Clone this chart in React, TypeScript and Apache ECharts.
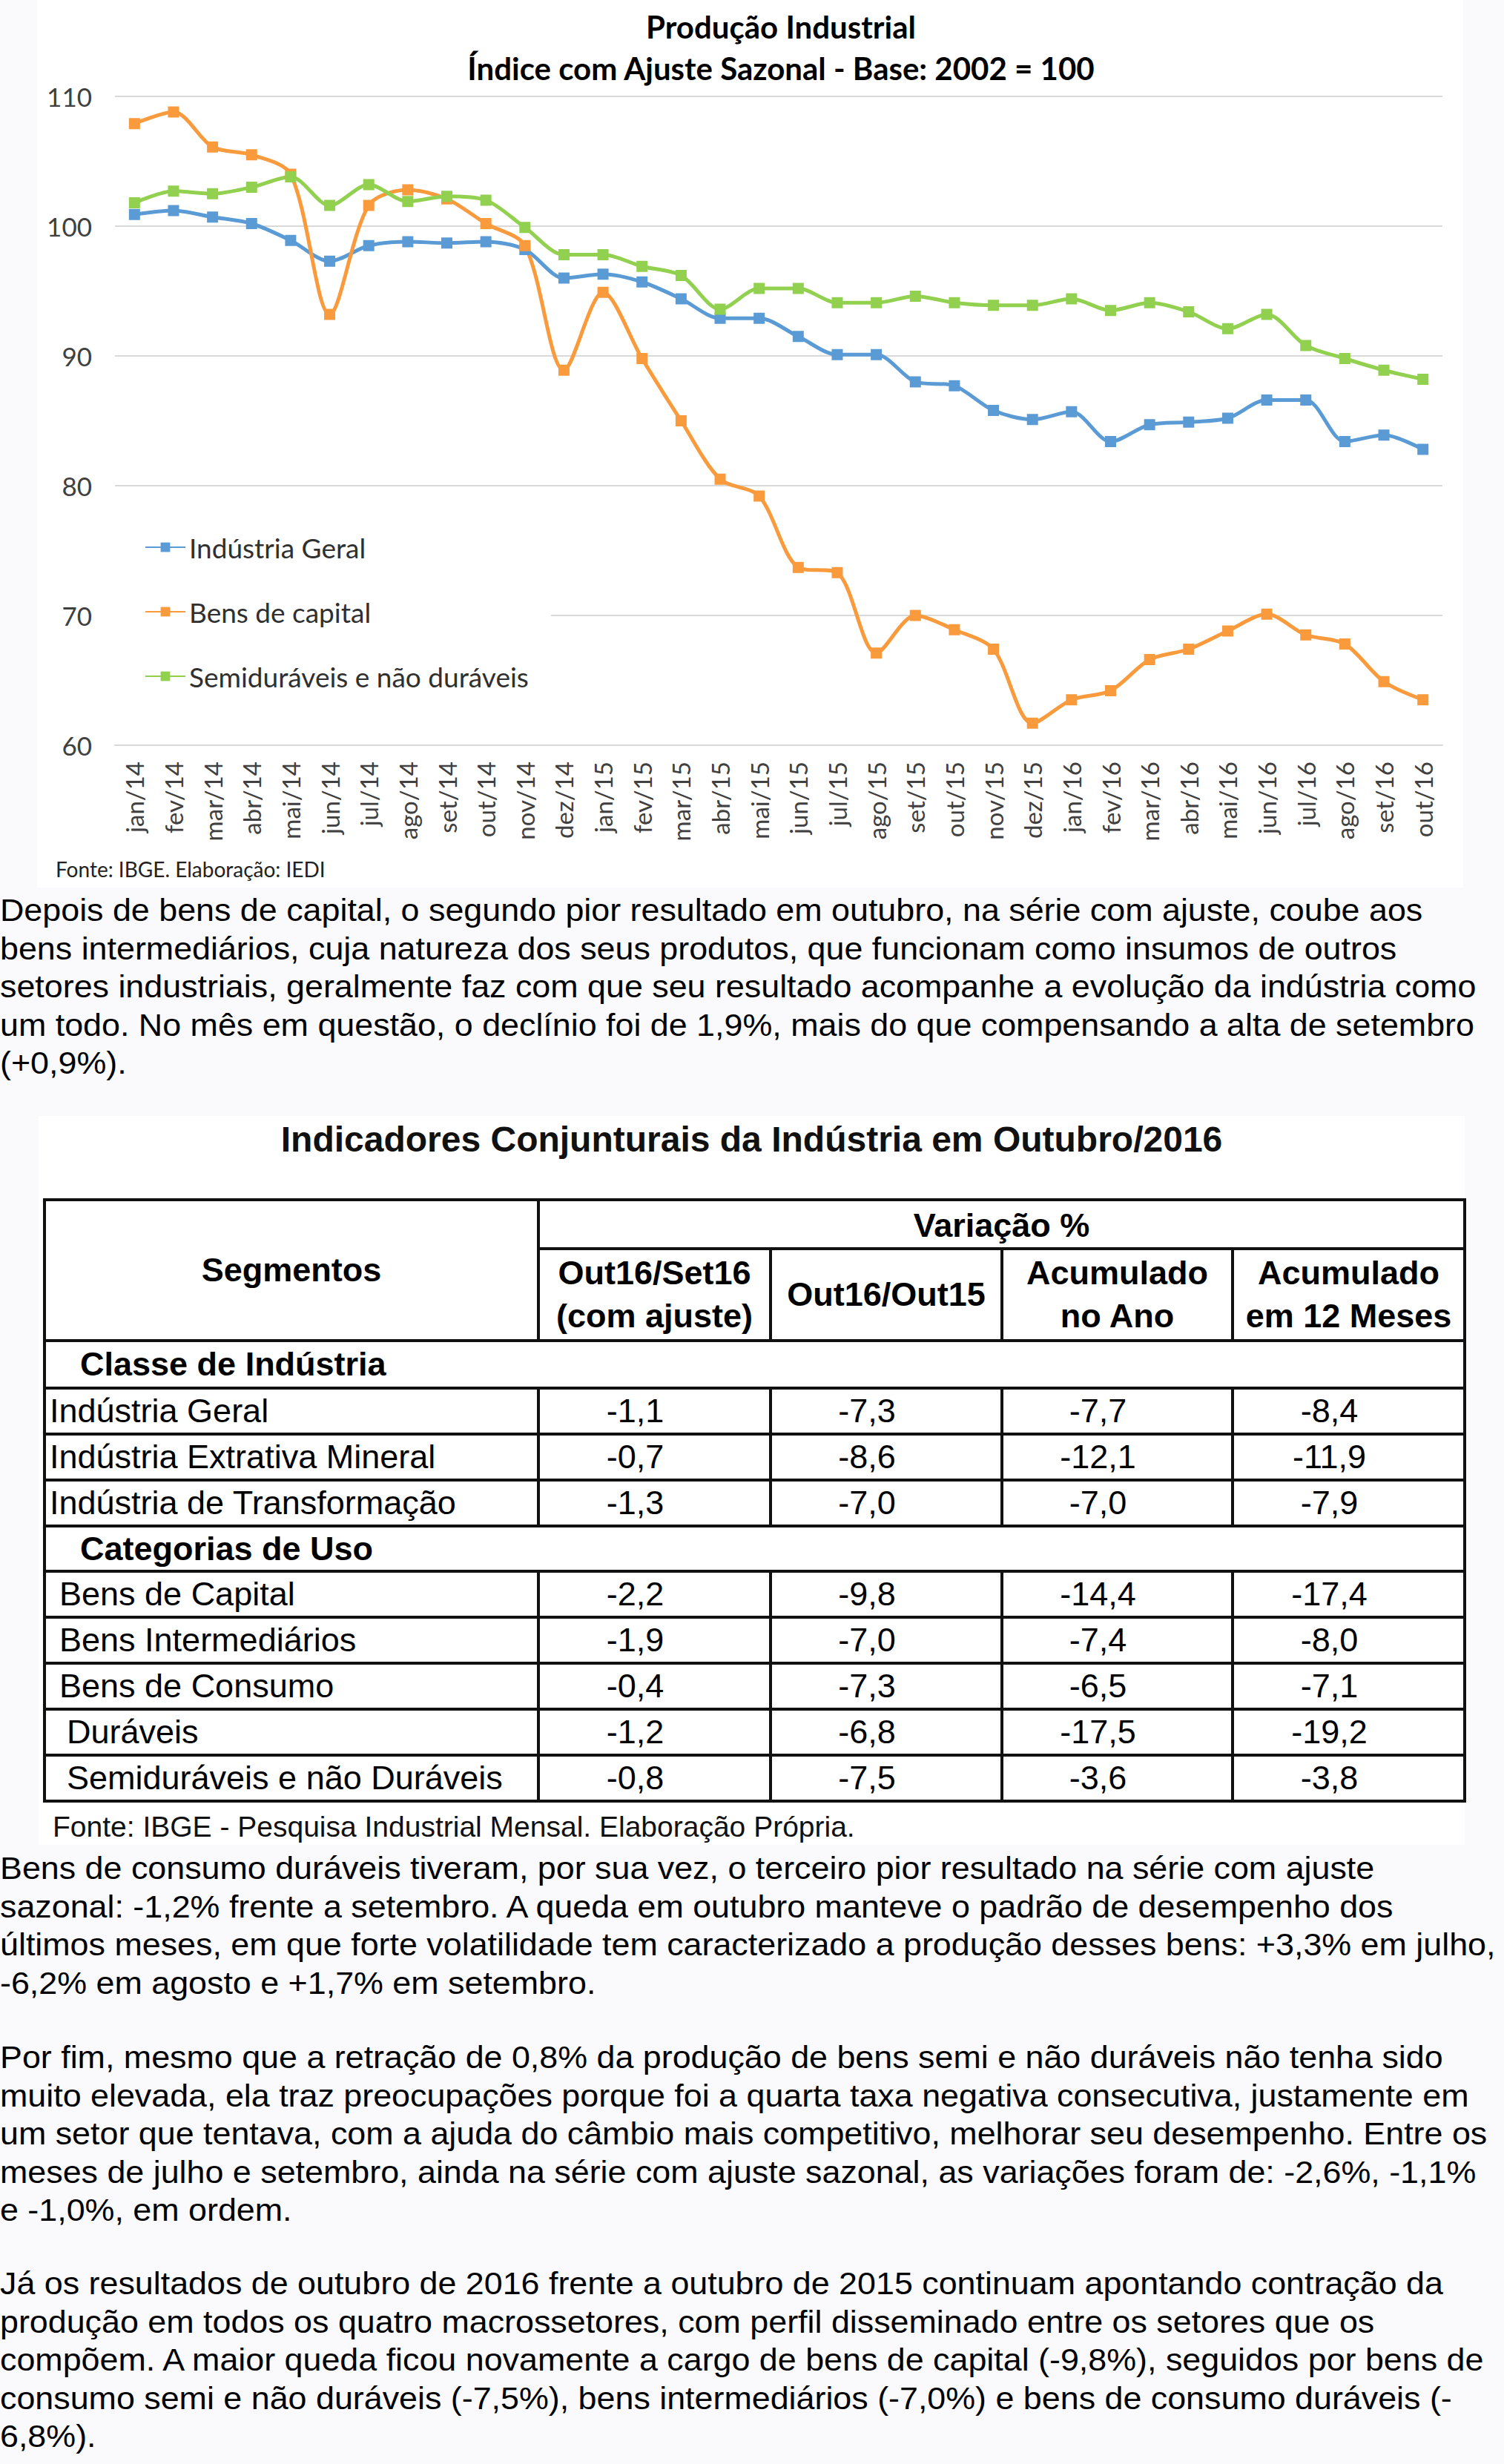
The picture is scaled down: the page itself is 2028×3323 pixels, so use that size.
import React, { useEffect, useRef } from "react";
import * as echarts from "echarts";

const months = [
  "jan/14", "fev/14", "mar/14", "abr/14", "mai/14", "jun/14", "jul/14", "ago/14", "set/14", "out/14", "nov/14", "dez/14",
  "jan/15", "fev/15", "mar/15", "abr/15", "mai/15", "jun/15", "jul/15", "ago/15", "set/15", "out/15", "nov/15", "dez/15",
  "jan/16", "fev/16", "mar/16", "abr/16", "mai/16", "jun/16", "jul/16", "ago/16", "set/16", "out/16",
];

const industriaGeral = [
  100.9, 101.2, 100.7, 100.2, 98.9, 97.3, 98.5, 98.8, 98.7, 98.8, 98.2, 96.0,
  96.3, 95.7, 94.4, 92.9, 92.9, 91.5, 90.1, 90.1, 88.0, 87.7, 85.8, 85.1,
  85.7, 83.4, 84.7, 84.9, 85.2, 86.6, 86.6, 83.4, 83.9, 82.8,
];

const bensCapital = [
  107.9, 108.8, 106.1, 105.5, 104.0, 93.2, 101.6, 102.8, 102.1, 100.2, 98.5, 88.9,
  94.9, 89.8, 85.0, 80.5, 79.2, 73.7, 73.3, 67.1, 70.0, 68.9, 67.4, 61.7,
  63.5, 64.2, 66.6, 67.4, 68.8, 70.1, 68.5, 67.8, 64.9, 63.5,
];

const semiduraveis = [
  101.8, 102.7, 102.5, 103.0, 103.8, 101.6, 103.2, 101.9, 102.3, 102.0, 99.9, 97.8,
  97.8, 96.9, 96.2, 93.6, 95.2, 95.2, 94.1, 94.1, 94.6, 94.1, 93.9, 93.9,
  94.4, 93.5, 94.1, 93.4, 92.1, 93.2, 90.8, 89.8, 88.9, 88.2,
];

const seriesNames = ["Indústria Geral", "Bens de capital", "Semiduráveis e não duráveis"];
const seriesColors = ["#5B9BD5", "#F99A3C", "#92D050"];

const chartTitle = ["Produção Industrial", "Índice com Ajuste Sazonal - Base: 2002 = 100"];
const chartSource = "Fonte: IBGE. Elaboração: IEDI";

const tableTitle = "Indicadores Conjunturais da Indústria em Outubro/2016";
const tableColumns = ["Out16/Set16\n(com ajuste)", "Out16/Out15", "Acumulado\nno Ano", "Acumulado\nem 12 Meses"];
const sectionClasse = "Classe de Indústria";
const rowsClasse = ["Indústria Geral", "Indústria Extrativa Mineral", "Indústria de Transformação"];
const valuesClasse = [
  ["-1,1", "-7,3", "-7,7", "-8,4"],
  ["-0,7", "-8,6", "-12,1", "-11,9"],
  ["-1,3", "-7,0", "-7,0", "-7,9"],
];
const sectionUso = "Categorias de Uso";
const rowsUso = ["Bens de Capital", "Bens Intermediários", "Bens de Consumo", "Duráveis", "Semiduráveis e não Duráveis"];
const indentUso = [18, 18, 18, 28, 28];
const valuesUso = [
  ["-2,2", "-9,8", "-14,4", "-17,4"],
  ["-1,9", "-7,0", "-7,4", "-8,0"],
  ["-0,4", "-7,3", "-6,5", "-7,1"],
  ["-1,2", "-6,8", "-17,5", "-19,2"],
  ["-0,8", "-7,5", "-3,6", "-3,8"],
];
const tableSource = "Fonte: IBGE - Pesquisa Industrial Mensal. Elaboração Própria.";

const paragraph1 = [
  "Depois de bens de capital, o segundo pior resultado em outubro, na série com ajuste, coube aos",
  "bens intermediários, cuja natureza dos seus produtos, que funcionam como insumos de outros",
  "setores industriais, geralmente faz com que seu resultado acompanhe a evolução da indústria como",
  "um todo. No mês em questão, o declínio foi de 1,9%, mais do que compensando a alta de setembro",
  "(+0,9%).",
];
const paragraph2 = [
  "Bens de consumo duráveis tiveram, por sua vez, o terceiro pior resultado na série com ajuste",
  "sazonal: -1,2% frente a setembro. A queda em outubro manteve o padrão de desempenho dos",
  "últimos meses, em que forte volatilidade tem caracterizado a produção desses bens: +3,3% em julho,",
  "-6,2% em agosto e +1,7% em setembro.",
];
const paragraph3 = [
  "Por fim, mesmo que a retração de 0,8% da produção de bens semi e não duráveis não tenha sido",
  "muito elevada, ela traz preocupações porque foi a quarta taxa negativa consecutiva, justamente em",
  "um setor que tentava, com a ajuda do câmbio mais competitivo, melhorar seu desempenho. Entre os",
  "meses de julho e setembro, ainda na série com ajuste sazonal, as variações foram de: -2,6%, -1,1%",
  "e -1,0%, em ordem.",
];
const paragraph4 = [
  "Já os resultados de outubro de 2016 frente a outubro de 2015 continuam apontando contração da",
  "produção em todos os quatro macrossetores, com perfil disseminado entre os setores que os",
  "compõem. A maior queda ficou novamente a cargo de bens de capital (-9,8%), seguidos por bens de",
  "consumo semi e não duráveis (-7,5%), bens intermediários (-7,0%) e bens de consumo duráveis (-",
  "6,8%).",
];

const LH = 51.4;
const textFont = "'Liberation Sans', Arial, sans-serif";
const chartFont = "Lato, 'Open Sans', sans-serif";

function Chart() {
  const ref = useRef<HTMLDivElement>(null);
  useEffect(() => {
    if (!ref.current) return;
    const chart = echarts.init(ref.current, undefined, { renderer: "svg" });
    const data = [industriaGeral, bensCapital, semiduraveis];
    chart.setOption({
      animation: false,
      backgroundColor: "#ffffff",
      grid: { left: 105, right: 28, top: 130, bottom: 192 },
      xAxis: {
        type: "category",
        data: months,
        boundaryGap: true,
        axisLine: { show: true, lineStyle: { color: "#d9d9d9", width: 2 } },
        axisTick: { show: false },
        axisLabel: { rotate: 90, interval: 0, fontSize: 33, fontFamily: chartFont, color: "#404040", margin: 22 },
      },
      yAxis: {
        type: "value",
        min: 60,
        max: 110,
        interval: 10,
        axisLine: { show: false },
        axisTick: { show: false },
        splitLine: { lineStyle: { color: "#d9d9d9", width: 2 } },
        axisLabel: { fontSize: 35, fontFamily: chartFont, color: "#404040", margin: 31 },
      },
      legend: {
        orient: "vertical",
        left: 105,
        top: 688,
        padding: [30, 30, 30, 40],
        itemGap: 47,
        itemWidth: 54,
        itemHeight: 16,
        backgroundColor: "#ffffff",
        data: seriesNames,
        textStyle: { fontSize: 37, fontFamily: chartFont, color: "#303030", lineHeight: 40 },
      },
      graphic: [
        {
          type: "text",
          x: 1003,
          y: 36,
          style: { text: chartTitle[0], fontSize: 42, fontWeight: "bold", fontFamily: chartFont, fill: "#000", align: "center", verticalAlign: "middle" },
        },
        {
          type: "text",
          x: 1003,
          y: 92,
          style: { text: chartTitle[1], fontSize: 42, fontWeight: "bold", fontFamily: chartFont, fill: "#000", align: "center", verticalAlign: "middle" },
        },
        {
          type: "text",
          x: 25,
          y: 1172,
          style: { text: chartSource, fontSize: 28, fontFamily: chartFont, fill: "#222", align: "left", verticalAlign: "middle" },
        },
      ],
      series: seriesNames.map((name, i) => ({
        name,
        type: "line",
        data: data[i],
        smooth: 0.3,
        symbol: "rect",
        symbolSize: 15,
        lineStyle: { width: 5, color: seriesColors[i] },
        itemStyle: { color: seriesColors[i] },
      })),
    });
    return () => chart.dispose();
  }, []);
  return <div ref={ref} style={{ position: "absolute", left: 50, top: 0, width: 1923, height: 1197, background: "#fff" }} />;
}

function Paragraph({ lines, top }: { lines: string[]; top: number }) {
  return (
    <div
      style={{
        position: "absolute",
        left: 0,
        top,
        fontFamily: textFont,
        fontSize: 42,
        lineHeight: `${LH}px`,
        color: "#000",
        whiteSpace: "nowrap",
        transform: "scaleX(1.067)",
        transformOrigin: "0 0",
      }}
    >
      {lines.map((l, i) => (
        <div key={i}>{l}</div>
      ))}
    </div>
  );
}

const colW = [666, 313, 312, 311, 313];
const bd = "4px solid #111";

function Table() {
  const cellBase: React.CSSProperties = { border: bd, padding: 0, fontFamily: textFont, fontSize: 45, color: "#000", overflow: "hidden", whiteSpace: "nowrap" };
  const num: React.CSSProperties = { ...cellBase, textAlign: "center", paddingRight: 52 };
  const hdr: React.CSSProperties = { ...cellBase, textAlign: "center", fontWeight: "bold", lineHeight: "58px" };
  return (
    <div style={{ position: "absolute", left: 52, top: 1505, width: 1923, height: 983, background: "#fff" }}>
      <div style={{ position: "absolute", left: 0, top: 4, width: 1923, textAlign: "center", fontFamily: textFont, fontWeight: "bold", fontSize: 48, color: "#111" }}>
        {tableTitle}
      </div>
      <table style={{ position: "absolute", left: 6, top: 111, borderCollapse: "collapse", tableLayout: "fixed", width: colW.reduce((a, b) => a + b, 0) }}>
        <colgroup>
          {colW.map((w, i) => (
            <col key={i} style={{ width: w }} />
          ))}
        </colgroup>
        <tbody>
          <tr style={{ height: 63 }}>
            <td rowSpan={2} style={{ ...hdr, fontSize: 45 }}>Segmentos</td>
            <td colSpan={4} style={{ ...hdr, paddingTop: 4 }}>Variação %</td>
          </tr>
          <tr style={{ height: 124 }}>
            {tableColumns.map((c, i) => (
              <td key={i} style={hdr}>
                {c.split("\n").map((p, j) => (
                  <div key={j}>{p}</div>
                ))}
              </td>
            ))}
          </tr>
          <tr style={{ height: 64 }}>
            <td colSpan={5} style={{ ...cellBase, fontWeight: "bold", paddingLeft: 46 }}>{sectionClasse}</td>
          </tr>
          {rowsClasse.map((r, i) => (
            <tr key={r} style={{ height: 62 }}>
              <td style={{ ...cellBase, paddingLeft: 5 }}>{r}</td>
              {valuesClasse[i].map((v, j) => (
                <td key={j} style={num}>{v}</td>
              ))}
            </tr>
          ))}
          <tr style={{ height: 61 }}>
            <td colSpan={5} style={{ ...cellBase, fontWeight: "bold", paddingLeft: 46 }}>{sectionUso}</td>
          </tr>
          {rowsUso.map((r, i) => (
            <tr key={r} style={{ height: 62 }}>
              <td style={{ ...cellBase, paddingLeft: indentUso[i] }}>{r}</td>
              {valuesUso[i].map((v, j) => (
                <td key={j} style={num}>{v}</td>
              ))}
            </tr>
          ))}
        </tbody>
      </table>
      <div style={{ position: "absolute", left: 19, top: 937, fontFamily: textFont, fontSize: 39, color: "#111", whiteSpace: "nowrap" }}>{tableSource}</div>
    </div>
  );
}

export default function App() {
  return (
    <div style={{ position: "absolute", left: 0, top: 0, width: 2028, height: 3323, background: "#fafafc", overflow: "hidden" }}>
      <Chart />
      <Paragraph lines={paragraph1} top={1228 - LH / 2} />
      <Table />
      <Paragraph lines={paragraph2} top={2520 - LH / 2} />
      <Paragraph lines={paragraph3} top={2775 - LH / 2} />
      <Paragraph lines={paragraph4} top={3080 - LH / 2} />
    </div>
  );
}
